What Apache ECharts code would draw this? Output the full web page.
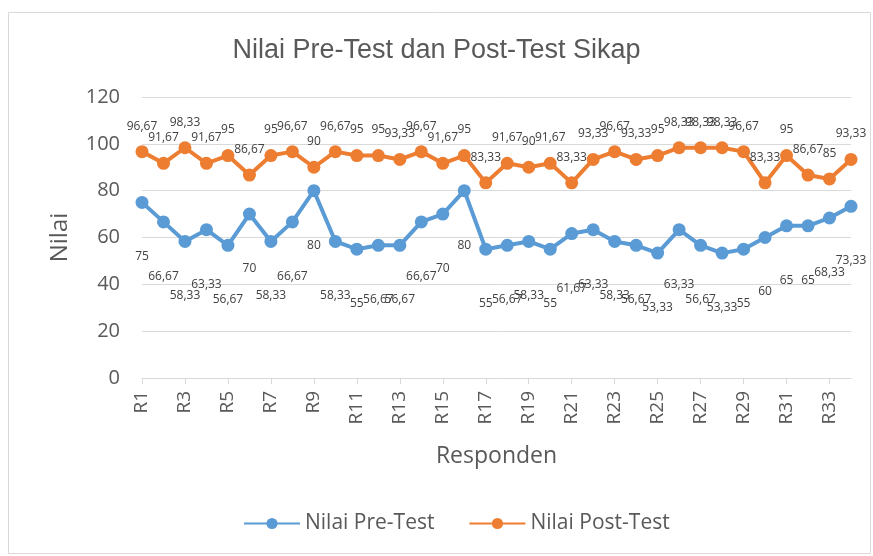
<!DOCTYPE html>
<html><head><meta charset="utf-8">
<script src="https://cdn.jsdelivr.net/npm/echarts@6/dist/echarts.min.js"></script>
<style>html,body{margin:0;padding:0;background:#fff}#c{width:873px;height:556px}</style>
</head><body><div id="c"></div>
<script>
const categories = ['R1','R2','R3','R4','R5','R6','R7','R8','R9','R10','R11','R12','R13','R14','R15','R16','R17','R18','R19','R20','R21','R22','R23','R24','R25','R26','R27','R28','R29','R30','R31','R32','R33','R34'];
const preTest = [75,66.67,58.33,63.33,56.67,70,58.33,66.67,80,58.33,55,56.67,56.67,66.67,70,80,55,56.67,58.33,55,61.67,63.33,58.33,56.67,53.33,63.33,56.67,53.33,55,60,65,65,68.33,73.33];
const postTest = [96.67,91.67,98.33,91.67,95,86.67,95,96.67,90,96.67,95,95,93.33,96.67,91.67,95,83.33,91.67,90,91.67,83.33,93.33,96.67,93.33,95,98.33,98.33,98.33,96.67,83.33,95,86.67,85,93.33];
const yTicks = [0,20,40,60,80,100,120];

const font = "'Open Sans','Noto Sans',sans-serif";
const fmt = p => String(p.value).replace('.', ',');
const chart = echarts.init(document.getElementById('c'));
chart.setOption({
  animation: false,
  textStyle: {fontFamily: font},
  graphic: [{type:'rect', shape:{x:8.5,y:12.5,width:862,height:541}, style:{fill:'none', stroke:'#d9d9d9', lineWidth:1}, silent:true}],
  title: {text:'Nilai Pre-Test dan Post-Test Sikap', left:'center', top:32,
    textStyle:{fontFamily:"'Liberation Sans',sans-serif", fontSize:27, fontWeight:'normal', color:'#595959'}},
  legend: {bottom:17, left:238, itemWidth:56, itemHeight:14, itemGap:34,
    textStyle:{fontSize:21, color:'#595959', fontFamily:font}},
  grid: {left:142, right:22, top:97, bottom:178, containLabel:false},
  xAxis: {type:'category', data:categories, boundaryGap:false,
    name:'Responden', nameLocation:'middle', nameGap:67,
    nameTextStyle:{fontSize:23, color:'#595959'},
    axisLine:{lineStyle:{color:'#d9d9d9'}},
    axisTick:{show:true, length:6, lineStyle:{color:'#d9d9d9'}},
    axisLabel:{rotate:90, interval:1, fontSize:19, color:'#595959', margin:13}},
  yAxis: {type:'value', min:yTicks[0], max:yTicks[yTicks.length-1], interval:20,
    name:'Nilai', nameLocation:'middle', nameGap:70, nameRotate:90,
    nameTextStyle:{fontSize:24, color:'#595959'},
    axisLine:{show:false}, axisTick:{show:false},
    axisLabel:{fontSize:20, color:'#595959', margin:22},
    splitLine:{lineStyle:{color:'#d9d9d9'}}},
  series: [
    {name:'Nilai Pre-Test', type:'line', data:preTest, symbol:'circle', symbolSize:13,
     itemStyle:{color:'#5B9BD5'}, lineStyle:{width:4, color:'#5B9BD5'},
     label:{show:true, position:'bottom', distance:42, fontSize:12, color:'#404040', formatter:fmt}},
    {name:'Nilai Post-Test', type:'line', data:postTest, symbol:'circle', symbolSize:13,
     itemStyle:{color:'#ED7D31'}, lineStyle:{width:4, color:'#ED7D31'},
     label:{show:true, position:'top', distance:13, fontSize:12, color:'#404040', formatter:fmt}}
  ]
});
</script></body></html>
